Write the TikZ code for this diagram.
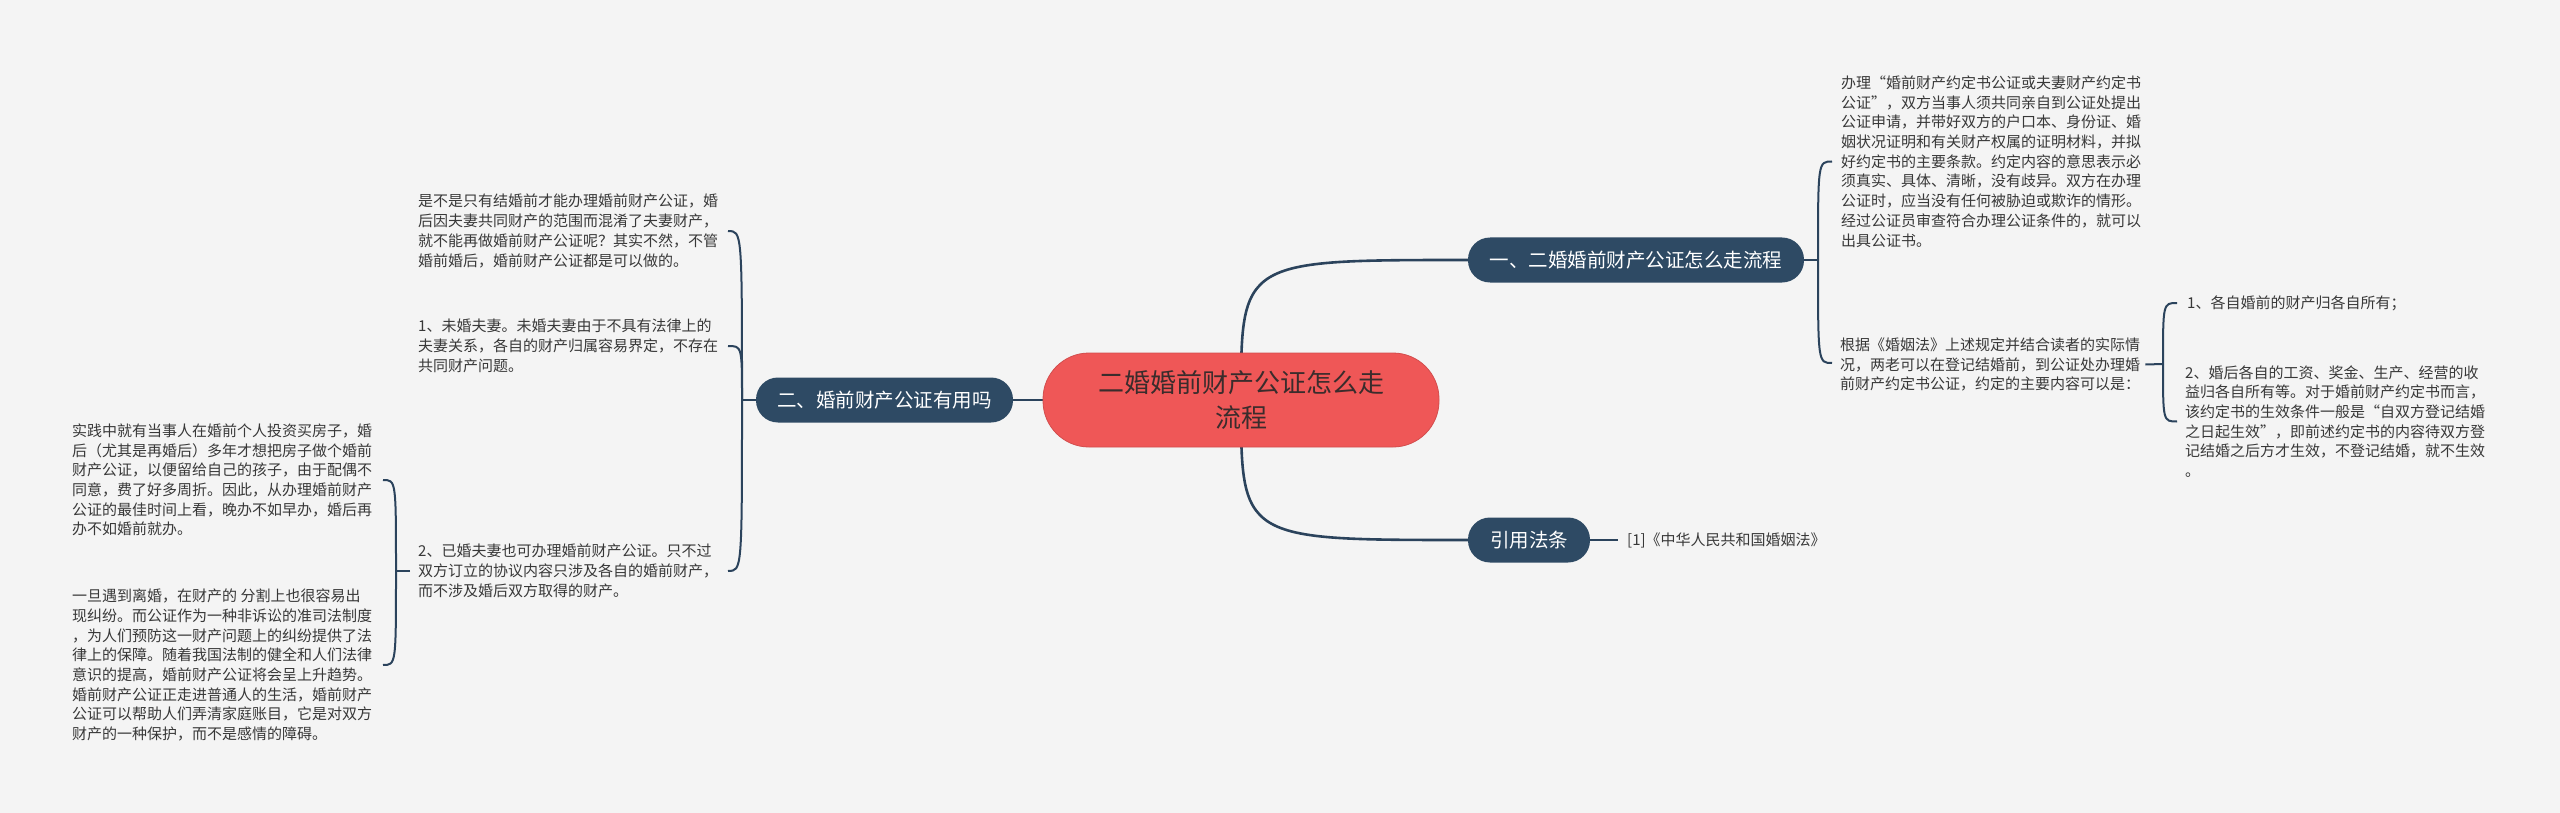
\documentclass[tikz,border=0pt]{standalone}
\usepackage{fontspec}
\setmainfont{Noto Sans CJK SC}
\definecolor{bgc}{HTML}{F4F4F4}
\definecolor{nodeblue}{HTML}{2E4A64}
\definecolor{linec}{HTML}{2B435C}
\definecolor{rootred}{HTML}{EF5757}
\definecolor{roottext}{HTML}{3A2C2C}
\definecolor{leafc}{HTML}{383838}
\pgfdeclarelayer{bglayer}
\pgfsetlayers{bglayer,main}
\tikzset{
  leaf/.style={inner sep=0pt, align=left, text=leafc, anchor=west, font=\fontsize{15}{19.7}\selectfont},
  branch/.style={fill=nodeblue, text=white, rounded corners=22pt, minimum height=45pt, inner sep=0pt, font=\fontsize{19.5}{24}\selectfont},
  rootbox/.style={fill=rootred, draw=rootred!88!black, line width=0.8pt, text=roottext, rounded corners=46pt, minimum height=94pt, minimum width=396pt, inner sep=0pt, align=center, font=\fontsize{26}{35}\selectfont},
  link/.style={draw=linec, line width=2pt},
  mainlink/.style={draw=linec, line width=2.6pt}
}
\begin{document}
\begin{tikzpicture}[x=1pt,y=-1pt]
\useasboundingbox (0,0) rectangle (2560,813);
% nodes
\node[rootbox] (root) at (1241,400) {二婚婚前财产公证怎么走\\流程};
\node[branch, minimum width=336pt] (b1) at (1636,260) {一、二婚婚前财产公证怎么走流程};
\node[branch, minimum width=257pt] (b2) at (884.5,400) {二、婚前财产公证有用吗};
\node[branch, minimum width=122pt] (b3) at (1529,540) {引用法条};
\node[leaf] (cite) at (1627,540) {[1]《中华人民共和国婚姻法》};
% branch 1 children
\node[leaf] (t1) at (1841,161.5) {办理“婚前财产约定书公证或夫妻财产约定书\\公证”，双方当事人须共同亲自到公证处提出\\公证申请，并带好双方的户口本、身份证、婚\\姻状况证明和有关财产权属的证明材料，并拟\\好约定书的主要条款。约定内容的意思表示必\\须真实、具体、清晰，没有歧异。双方在办理\\公证时，应当没有任何被胁迫或欺诈的情形。\\经过公证员审查符合办理公证条件的，就可以\\出具公证书。};
\node[leaf] (t2) at (1840,364.5) {根据《婚姻法》上述规定并结合读者的实际情\\况，两老可以在登记结婚前，到公证处办理婚\\前财产约定书公证，约定的主要内容可以是：};
\node[leaf] (t3) at (2187,303) {1、各自婚前的财产归各自所有；};
\node[leaf] (t4) at (2185,421.5) {2、婚后各自的工资、奖金、生产、经营的收\\益归各自所有等。对于婚前财产约定书而言，\\该约定书的生效条件一般是“自双方登记结婚\\之日起生效”，即前述约定书的内容待双方登\\记结婚之后方才生效，不登记结婚，就不生效\\。};
% branch 2 children
\node[leaf] (tA) at (418,231) {是不是只有结婚前才能办理婚前财产公证，婚\\后因夫妻共同财产的范围而混淆了夫妻财产，\\就不能再做婚前财产公证呢？其实不然，不管\\婚前婚后，婚前财产公证都是可以做的。};
\node[leaf] (tB) at (418,346) {1、未婚夫妻。未婚夫妻由于不具有法律上的\\夫妻关系，各自的财产归属容易界定，不存在\\共同财产问题。};
\node[leaf] (tC) at (418,571) {2、已婚夫妻也可办理婚前财产公证。只不过\\双方订立的协议内容只涉及各自的婚前财产，\\而不涉及婚后双方取得的财产。};
\node[leaf] (tD) at (72,480) {实践中就有当事人在婚前个人投资买房子，婚\\后（尤其是再婚后）多年才想把房子做个婚前\\财产公证，以便留给自己的孩子，由于配偶不\\同意，费了好多周折。因此，从办理婚前财产\\公证的最佳时间上看，晚办不如早办，婚后再\\办不如婚前就办。};
\node[leaf] (tE) at (72,665) {一旦遇到离婚，在财产的 分割上也很容易出\\现纠纷。而公证作为一种非诉讼的准司法制度\\，为人们预防这一财产问题上的纠纷提供了法\\律上的保障。随着我国法制的健全和人们法律\\意识的提高，婚前财产公证将会呈上升趋势。\\婚前财产公证正走进普通人的生活，婚前财产\\公证可以帮助人们弄清家庭账目，它是对双方\\财产的一种保护，而不是感情的障碍。};
% connector points
\coordinate (s1) at (1818,260);
\coordinate (a1) at (1832,161.5);
\coordinate (a2) at (1832,363);
\coordinate (s2) at (2163,364);
\coordinate (a3) at (2177,303);
\coordinate (a4) at (2177,421.5);
\coordinate (s3) at (742,400);
\coordinate (aA) at (728,231);
\coordinate (aB) at (728,346);
\coordinate (aC) at (728,571);
\coordinate (s4) at (396,571);
\coordinate (aD) at (383,480);
\coordinate (aE) at (383,665);
\begin{pgfonlayer}{bglayer}
\fill[bgc] (0,0) rectangle (2560,813);
\draw[mainlink] (root.center) .. controls (root.center |- b1) .. (b1.west);
\draw[mainlink] (root.center) .. controls (root.center |- b3) .. (b3.west);
\draw[mainlink] (root.center) -- (b2.east);
\draw[link] (b3.east) -- ([xshift=-9pt]cite.west);
\draw[link] (b1.east) -- (s1);
\draw[link] (s1) .. controls (s1 |- a1) and (s1 |- a1) .. (a1);
\draw[link] (s1) .. controls (s1 |- a2) and (s1 |- a2) .. (a2);
\draw[link] ([xshift=5pt]t2.east) -- (s2);
\draw[link] (s2) .. controls (s2 |- a3) and (s2 |- a3) .. (a3);
\draw[link] (s2) .. controls (s2 |- a4) and (s2 |- a4) .. (a4);
\draw[link] (b2.west) -- (s3);
\draw[link] (s3) .. controls (s3 |- aA) and (s3 |- aA) .. (aA);
\draw[link] (s3) .. controls (s3 |- aB) and (s3 |- aB) .. (aB);
\draw[link] (s3) .. controls (s3 |- aC) and (s3 |- aC) .. (aC);
\draw[link] ([xshift=-8pt]tC.west) -- (s4);
\draw[link] (s4) .. controls (s4 |- aD) and (s4 |- aD) .. (aD);
\draw[link] (s4) .. controls (s4 |- aE) and (s4 |- aE) .. (aE);
\end{pgfonlayer}
\end{tikzpicture}
\end{document}
